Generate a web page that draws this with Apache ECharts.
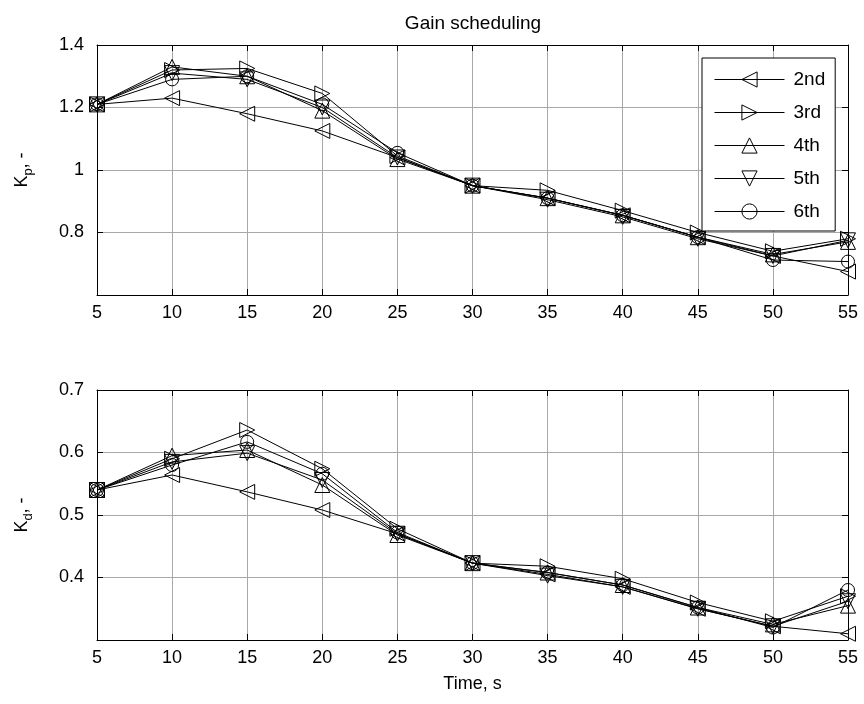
<!DOCTYPE html>
<html>
<head>
<meta charset="utf-8">
<script src="https://cdn.jsdelivr.net/npm/echarts@6/dist/echarts.min.js"></script>
<style>
  html, body { margin: 0; padding: 0; background: #fff; }
  #main { width: 864px; height: 704px; }
</style>
</head>
<body>
<div id="main"></div>
<script>
// time axis, s
var times = [5, 10, 15, 20, 25, 30, 35, 40, 45, 50, 55];
var names = ['2nd', '3rd', '4th', '5th', '6th'];

// K_p for each order
var kp2 = [1.21, 1.23, 1.18, 1.125, 1.04, 0.95, 0.91, 0.855, 0.785, 0.725, 0.675];
var kp3 = [1.21, 1.32, 1.325, 1.245, 1.045, 0.95, 0.935, 0.87, 0.80, 0.74, 0.78];
var kp4 = [1.21, 1.33, 1.30, 1.19, 1.035, 0.95, 0.91, 0.855, 0.785, 0.73, 0.77];
var kp5 = [1.21, 1.31, 1.29, 1.20, 1.04, 0.95, 0.905, 0.85, 0.78, 0.725, 0.775];
var kp6 = [1.21, 1.29, 1.30, 1.21, 1.055, 0.95, 0.91, 0.855, 0.785, 0.712, 0.707];

// K_d for each order
var kd2 = [0.54, 0.564, 0.537, 0.508, 0.47, 0.423, 0.405, 0.385, 0.35, 0.322, 0.31];
var kd3 = [0.54, 0.59, 0.636, 0.574, 0.478, 0.423, 0.418, 0.398, 0.36, 0.33, 0.37];
var kd4 = [0.54, 0.595, 0.604, 0.548, 0.468, 0.423, 0.408, 0.388, 0.352, 0.325, 0.355];
var kd5 = [0.54, 0.585, 0.599, 0.556, 0.47, 0.423, 0.403, 0.385, 0.35, 0.322, 0.362];
var kd6 = [0.54, 0.58, 0.617, 0.566, 0.472, 0.423, 0.408, 0.388, 0.352, 0.32, 0.38];

var kpTicks = [0.6, 1.4, 0.2];
var kdTicks = [0.3, 0.7, 0.1];

var FONT = 'Liberation Sans, Arial, sans-serif';
var symbols = ['triangle', 'triangle', 'triangle', 'triangle', 'circle'];
var rotates = [90, -90, 0, 180, 0];

function pairs(ys) {
    var out = [];
    for (var i = 0; i < times.length; i++) out.push([times[i], ys[i]]);
    return out;
}

function makeSeries(list, xi, yi) {
    return list.map(function (ys, k) {
        return {
            name: names[k],
            type: 'line',
            xAxisIndex: xi,
            yAxisIndex: yi,
            data: pairs(ys),
            symbol: symbols[k],
            symbolSize: k === 4 ? 13 : 15,
            symbolRotate: rotates[k],
            showAllSymbol: true,
            lineStyle: {color: '#000', width: 1},
            itemStyle: {color: 'rgba(0,0,0,0)', borderColor: '#000', borderWidth: 1},
            emphasis: {disabled: true},
            silent: true,
            z: 3
        };
    });
}

function xAxes(gi, withName) {
    var main = {
        type: 'value', gridIndex: gi, min: 5, max: 55, interval: 5,
        axisLine: {onZero: false, lineStyle: {color: '#000', width: 1}},
        axisTick: {inside: true, length: 6, lineStyle: {color: '#000'}},
        axisLabel: {color: '#000', fontSize: 18, fontFamily: FONT, margin: 9},
        splitLine: {show: true, lineStyle: {color: '#a8a8a8', width: 1}}
    };
    if (withName) {
        main.name = 'Time, s';
        main.nameLocation = 'middle';
        main.nameGap = 35;
        main.nameTextStyle = {color: '#000', fontSize: 18, fontFamily: FONT};
    }
    var top = {
        type: 'value', gridIndex: gi, position: 'top', min: 5, max: 55, interval: 5,
        axisLine: {onZero: false, lineStyle: {color: '#000', width: 1}},
        axisTick: {inside: true, length: 6, lineStyle: {color: '#000'}},
        axisLabel: {show: false},
        splitLine: {show: false}
    };
    return [main, top];
}

function yAxes(gi, t, sub) {
    var left = {
        type: 'value', gridIndex: gi, min: t[0], max: t[1], interval: t[2],
        axisLine: {show: true, lineStyle: {color: '#000', width: 1}},
        axisTick: {show: true, inside: true, length: 6, lineStyle: {color: '#000'}},
        axisLabel: {color: '#000', fontSize: 18, fontFamily: FONT, margin: 13, showMinLabel: false},
        splitLine: {show: true, lineStyle: {color: '#a8a8a8', width: 1}},
        name: '{k|K}{s|' + sub + '}{k|, -}',
        nameLocation: 'middle',
        nameRotate: 90,
        nameGap: 62,
        nameTextStyle: {
            color: '#000', fontFamily: FONT,
            rich: {
                k: {fontSize: 18, fontFamily: FONT, color: '#000', lineHeight: 26},
                s: {fontSize: 13, fontFamily: FONT, color: '#000', lineHeight: 26, verticalAlign: 'bottom', padding: [12, 0, 0, 0]}
            }
        }
    };
    var right = {
        type: 'value', gridIndex: gi, position: 'right', min: t[0], max: t[1], interval: t[2],
        axisLine: {show: true, lineStyle: {color: '#000', width: 1}},
        axisTick: {show: true, inside: true, length: 6, lineStyle: {color: '#000'}},
        axisLabel: {show: false},
        splitLine: {show: false}
    };
    return [left, right];
}

var chart = echarts.init(document.getElementById('main'), null, {renderer: 'canvas'});

var option = {
    animation: false,
    backgroundColor: '#fff',
    title: {
        text: 'Gain scheduling',
        left: 468, top: 9, textAlign: 'center',
        textStyle: {color: '#000', fontSize: 19, fontWeight: 'normal', fontFamily: FONT}
    },
    legend: {
        data: names,
        orient: 'vertical',
        left: 702, top: 58,
        padding: [12, 10, 10, 12],
        itemWidth: 70, itemHeight: 19, itemGap: 14,
        backgroundColor: '#fff',
        borderColor: '#000', borderWidth: 1, borderRadius: 0,
        lineStyle: {color: '#000', width: 1},
        itemStyle: {color: 'rgba(0,0,0,0)', borderColor: '#000', borderWidth: 1},
        textStyle: {color: '#000', fontSize: 19, fontFamily: FONT, padding: [0, 0, 0, 4]},
        selectedMode: false,
        z: 10
    },
    grid: [
        {left: 97, right: 16, top: 45, height: 250},
        {left: 97, right: 16, top: 390, height: 250}
    ],
    xAxis: xAxes(0, false).concat(xAxes(1, true)),
    yAxis: yAxes(0, kpTicks, 'p').concat(yAxes(1, kdTicks, 'd')),
    series: makeSeries([kp2, kp3, kp4, kp5, kp6], 0, 0)
        .concat(makeSeries([kd2, kd3, kd4, kd5, kd6], 2, 2))
};

chart.setOption(option);
</script>
</body>
</html>
